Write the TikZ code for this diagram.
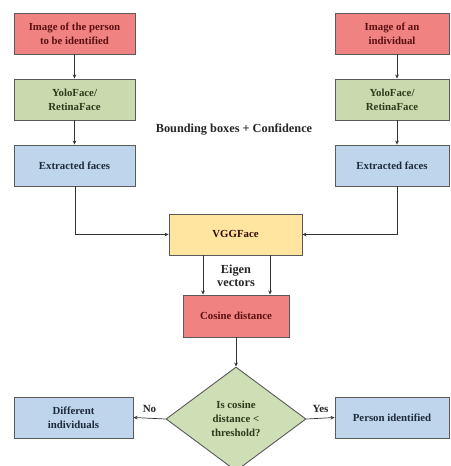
\documentclass[tikz,border=0pt]{standalone}
\usepackage{fontspec}
\setmainfont{Liberation Serif}
\usetikzlibrary{shapes.geometric,arrows.meta}

\definecolor{redfill}{HTML}{F08282}
\definecolor{redtext}{HTML}{5A1010}
\definecolor{greenfill}{HTML}{C9DBAE}
\definecolor{greentext}{HTML}{2E3A1A}
\definecolor{bluefill}{HTML}{BFD5EC}
\definecolor{bluetext}{HTML}{1E2A3C}
\definecolor{yellowfill}{HTML}{FFE5A0}
\definecolor{edge}{HTML}{5A5A5A}

\tikzset{
  box/.style={draw=edge, line width=0.9pt, inner sep=0pt, align=center,
    font=\fontsize{10.8}{14}\selectfont\bfseries},
  redbox/.style={box, fill=redfill, text=redtext},
  greenbox/.style={box, fill=greenfill, text=greentext},
  bluebox/.style={box, fill=bluefill, text=bluetext},
  yellowbox/.style={box, fill=yellowfill, text=redtext!60!black},
  decision/.style={box, diamond, fill=greenfill!90!white, text=greentext,
    minimum width=140pt, minimum height=104pt},
  arr/.style={draw=black!80, line width=0.7pt, -{Stealth[length=4pt,width=3.6pt]}},
  lbl/.style={font=\fontsize{12.3}{13}\selectfont\bfseries, text=black!85, align=center},
  tag/.style={font=\fontsize{11}{13}\selectfont\bfseries, text=black!85}
}

\begin{document}
\begin{tikzpicture}[x=1pt,y=-1pt]
  \useasboundingbox[fill=white] (0,0) rectangle (450,466);

  % left column
  \node[redbox, minimum width=121pt, minimum height=41pt] (imgL) at (74.5,33.5)
    {Image of the person\\to be identified};
  \node[greenbox, minimum width=121pt, minimum height=41pt] (detL) at (74.5,99.5)
    {YoloFace/\\RetinaFace};
  \node[bluebox, minimum width=121pt, minimum height=41pt] (facL) at (74.5,165.5)
    {Extracted faces};

  % right column
  \node[redbox, minimum width=114pt, minimum height=41pt] (imgR) at (392,33.5)
    {Image of an\\individual};
  \node[greenbox, minimum width=114pt, minimum height=41pt] (detR) at (392,99.5)
    {YoloFace/\\RetinaFace};
  \node[bluebox, minimum width=114pt, minimum height=41pt] (facR) at (392,165.5)
    {Extracted faces};

  \node[lbl] (bbox) at (234,130) {Bounding boxes + Confidence};

  % centre
  \node[yellowbox, minimum width=133pt, minimum height=41pt] (vgg) at (235.5,234.5)
    {VGGFace};
  \node[redbox, minimum width=106pt, minimum height=42pt] (cos) at (236,316)
    {Cosine distance};
  \node[lbl, font=\fontsize{12.3}{13.5}\selectfont\bfseries] (eig) at (236,276)
    {Eigen\\vectors};

  \node[decision] (dec) at (236,419) {Is cosine\\distance <\\threshold?};

  % outcomes
  \node[bluebox, minimum width=119pt, minimum height=41pt] (diff) at (73.5,417.5)
    {Different\\individuals};
  \node[bluebox, minimum width=114pt, minimum height=41pt] (pers) at (392,417.5)
    {Person identified};

  % connectors
  \draw[arr] (imgL) -- (detL);
  \draw[arr] (detL) -- (facL);
  \draw[arr] (imgR.south -| 397,0) -- (detR.north -| 397,0);
  \draw[arr] (detR.south -| 397,0) -- (facR.north -| 397,0);
  \draw[arr] (facL.south -| 75,0) |- (vgg.west);
  \draw[arr] (facR.south -| 397,0) |- (vgg.east);
  \draw[arr] (vgg.south -| 203,0) -- (cos.north -| 203,0);
  \draw[arr] (vgg.south -| 270,0) -- (cos.north -| 270,0);
  \draw[arr] (cos) -- (dec);
  \draw[arr] (dec.west) -- node[tag, above=2pt] {No} (diff.east);
  \draw[arr] (dec.east) -- node[tag, above=2pt] {Yes} (pers.west);
\end{tikzpicture}
\end{document}
